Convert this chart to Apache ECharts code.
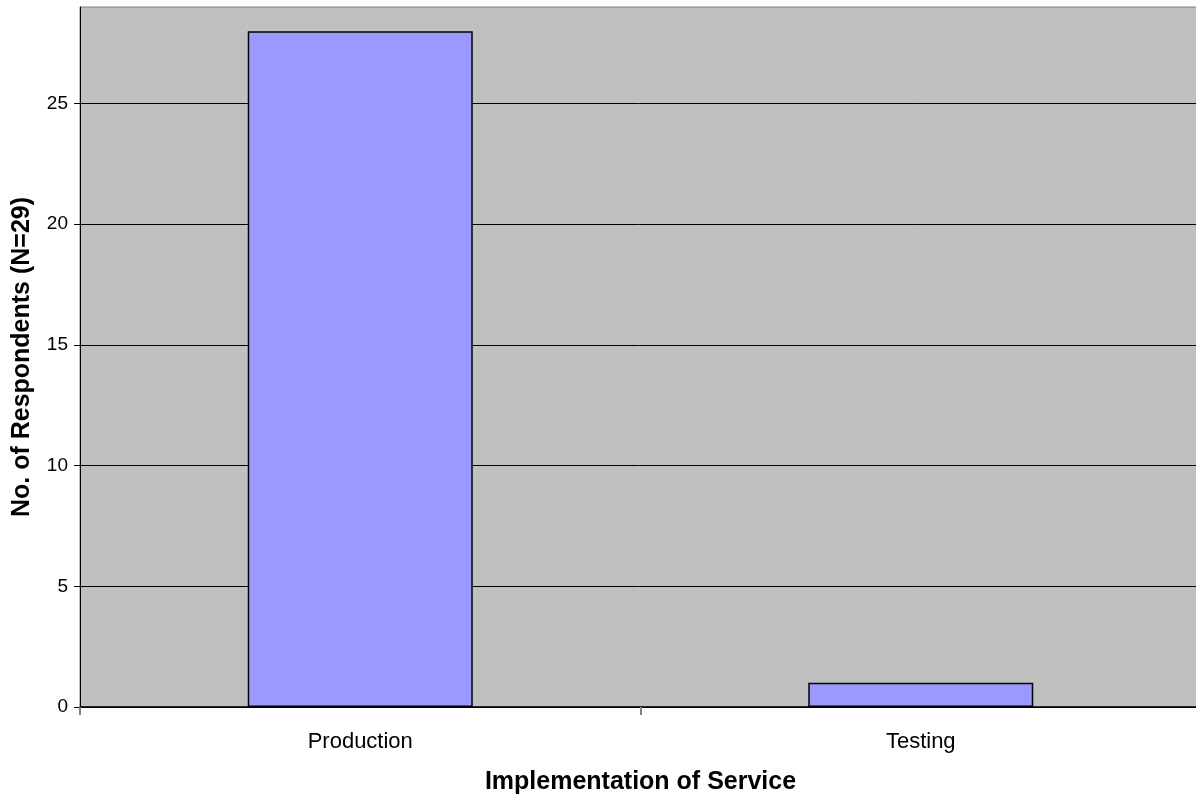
<!DOCTYPE html>
<html>
<head>
<meta charset="utf-8">
<script src="https://cdn.jsdelivr.net/npm/echarts@6/dist/echarts.min.js"></script>
<style>
  html, body { margin: 0; padding: 0; background: #fff; }
  #chart { width: 1196px; height: 796px; }
</style>
</head>
<body>
<div id="chart"></div>
<script>
var categories = ["Production", "Testing"];
var respondents = [28, 1];
var yTicks = [0, 5, 10, 15, 20, 25];

var chart = echarts.init(document.getElementById("chart"));
chart.setOption({
  animation: false,
  grid: {
    left: 80,
    width: 1121,
    top: 7,
    bottom: 89,
    containLabel: false,
    outerBoundsMode: "none",
    show: true,
    backgroundColor: "#c0c0c0",
    borderColor: "#808080",
    borderWidth: 1
  },
  xAxis: {
    type: "category",
    data: categories,
    name: "Implementation of Service",
    nameLocation: "middle",
    nameGap: 63,
    nameTextStyle: { fontFamily: "Liberation Sans", fontSize: 25, fontWeight: "bold", color: "#000" },
    axisLine: { lineStyle: { color: "#000", width: 1.5 } },
    axisTick: { show: true, length: 8, lineStyle: { color: "#808080", width: 2 } },
    axisLabel: { fontFamily: "Liberation Sans", fontSize: 22, color: "#000", margin: 24 }
  },
  yAxis: {
    type: "value",
    min: 0,
    max: 29,
    interval: 5,
    name: "No. of Respondents (N=29)",
    nameLocation: "middle",
    nameGap: 45,
    nameTextStyle: { fontFamily: "Liberation Sans", fontSize: 25, fontWeight: "bold", color: "#000" },
    axisLine: { show: true, lineStyle: { color: "#000" } },
    axisTick: { show: true, length: 6, customValues: yTicks, lineStyle: { color: "#000" } },
    axisLabel: {
      fontFamily: "Liberation Sans", fontSize: 19, color: "#000", margin: 12,
      customValues: yTicks
    },
    splitLine: { show: true, lineStyle: { color: "#000", width: 1 } }
  },
  series: [
    {
      type: "bar",
      data: respondents,
      barWidth: 225,
      itemStyle: { color: "#9999ff", borderColor: "#000", borderWidth: 1.5 }
    }
  ]
});
</script>
</body>
</html>
